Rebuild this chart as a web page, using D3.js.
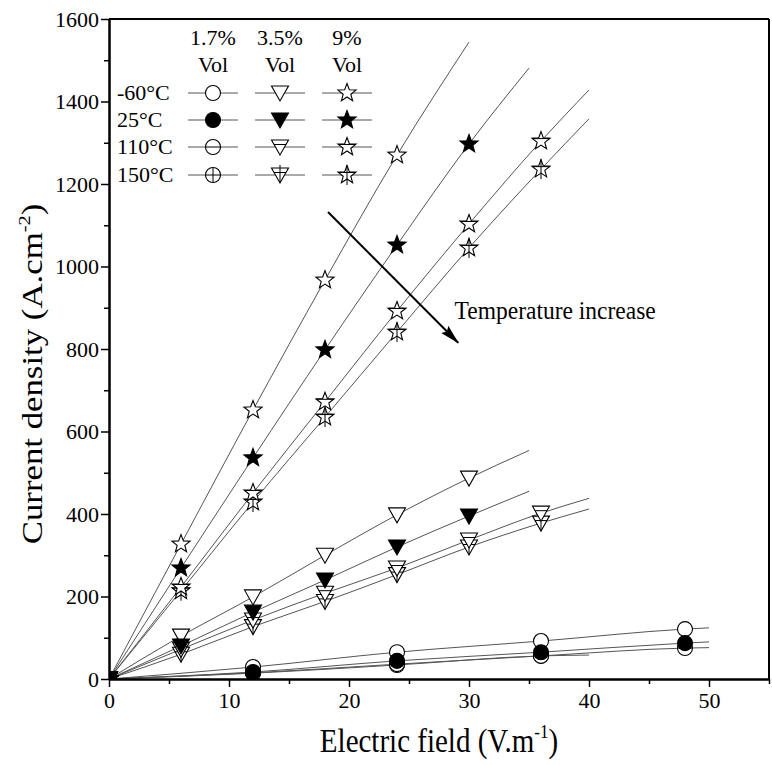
<!DOCTYPE html>
<html>
<head>
<meta charset="utf-8">
<script src="https://cdn.jsdelivr.net/npm/d3@7"></script>
<style>
  html, body { margin: 0; padding: 0; background: #fff; }
  svg { display: block; }
  text { font-family: "Liberation Serif", "Times New Roman", serif; fill: #000; }
</style>
</head>
<body>
<svg id="chart" width="772" height="765"></svg>
<script>
// ---------------- data ----------------
const temperatures = ["-60°C", "25°C", "110°C", "150°C"];
const concentrations = ["1.7%", "3.5%", "9%"];

// 1.7 % Vol (circles)
const fieldCircle = [0, 12, 24, 36, 48];
const circleM60 = [0, 29, 65, 92, 121];
const circle25  = [0, 17, 44, 65, 87];
const circle110 = [0, 15, 36, 56, 75];
const circle150 = [0, 14, 34, 56];
const circleFitEnd = [[50, 124], [50, 90], [50, 76], [40, 58]];

// 3.5 % Vol (down triangles)
const fieldTriangle = [0, 6, 12, 18, 24, 30, 36];
const triM60 = [0, 104, 199, 300, 398, 487];
const tri25  = [0, 80, 162, 240, 320, 395];
const tri110 = [0, 72, 143, 208, 269, 337, 402];
const tri150 = [0, 60, 127, 188, 253, 320, 378];
const triFitEnd = [[35, 554], [35, 455], [40, 438], [40, 412]];

// 9 % Vol (stars)
const fieldStar = [0, 6, 12, 18, 24, 30, 36];
const starM60 = [0, 327, 652, 967, 1270];
const star25  = [0, 269, 536, 798, 1052, 1297];
const star110 = [0, 223, 451, 672, 892, 1103, 1304];
const star150 = [0, 214, 429, 635, 841, 1045, 1236];
const starFitEnd = [[30, 1544], [35, 1481], [40, 1428], [40, 1358]];

const xTicks = [0, 10, 20, 30, 40, 50];
const xMinorTicks = [5, 15, 25, 35, 45, 55];
const yTicks = [0, 200, 400, 600, 800, 1000, 1200, 1400, 1600];
const yMinorTicks = [100, 300, 500, 700, 900, 1100, 1300, 1500];

const arrowStart = [18.25, 1132];
const arrowEnd = [29.1, 815];
const arrowLabel = "Temperature increase";
const arrowLabelPos = [28.8, 872];

// ---------------- layout ----------------
const W = 772, H = 765;
const margin = {left: 109, right: 3, top: 19, bottom: 86};
const svg = d3.select("#chart");

const x = d3.scaleLinear().domain([0, 55]).range([margin.left, W - margin.right]);
const y = d3.scaleLinear().domain([0, 1600]).range([H - margin.bottom, margin.top]);

const groups = [
  {shape: "circle",   field: fieldCircle,   series: [circleM60, circle25, circle110, circle150], ends: circleFitEnd},
  {shape: "triangle", field: fieldTriangle, series: [triM60, tri25, tri110, tri150],             ends: triFitEnd},
  {shape: "star",     field: fieldStar,     series: [starM60, star25, star110, star150],         ends: starFitEnd}
];

svg.append("defs").append("clipPath").attr("id", "plotClip")
  .append("rect").attr("x", x(0)).attr("y", y(1600))
  .attr("width", x(55) - x(0)).attr("height", y(0) - y(1600));

// ---------- marker paths ----------
function starPath(R, r) {
  const pts = [];
  for (let i = 0; i < 10; i++) {
    const a = -Math.PI / 2 + i * Math.PI / 5;
    const rad = i % 2 === 0 ? R : r;
    pts.push([rad * Math.cos(a), rad * Math.sin(a)]);
  }
  return "M" + pts.map(p => p[0].toFixed(2) + "," + p[1].toFixed(2)).join("L") + "Z";
}
const shapePath = {
  circle: d3.symbol(d3.symbolCircle, Math.PI * 7.5 * 7.5)(),
  triangle: "M-8.5,-7L8.5,-7L0,8Z",
  star: starPath(9.5, 4)
};
const innerLines = {
  circle:   {h: [[-7.5, 0], [7.5, 0]],  v: [[0, -7.5], [0, 7.5]]},
  triangle: {h: [[-6, -2.5], [6, -2.5]], v: [[0, -10], [0, 8]]},
  star:     {h: [[-9, -2.5], [9, -2.5]],  v: [[0, -10], [0, 10]]}
};

function drawMarker(g, shape, tIndex) {
  const filled = tIndex === 1;
  g.append("path").attr("d", shapePath[shape])
    .attr("fill", filled ? "#000" : "#fff")
    .attr("stroke", "#000").attr("stroke-width", 1.1);
  const il = innerLines[shape];
  if (tIndex === 2 || tIndex === 3) {
    g.append("line").attr("x1", il.h[0][0]).attr("y1", il.h[0][1])
      .attr("x2", il.h[1][0]).attr("y2", il.h[1][1])
      .attr("stroke", "#000").attr("stroke-width", 1);
  }
  if (tIndex === 3) {
    g.append("line").attr("x1", il.v[0][0]).attr("y1", il.v[0][1])
      .attr("x2", il.v[1][0]).attr("y2", il.v[1][1])
      .attr("stroke", "#000").attr("stroke-width", 1);
  }
}

// ---------------- fit lines ----------------
const lineGen = d3.line().x(d => x(d[0])).y(d => y(d[1])).curve(d3.curveMonotoneX);
const linesG = svg.append("g").attr("clip-path", "url(#plotClip)");
groups.forEach(gr => {
  gr.series.forEach((vals, ti) => {
    const pts = vals.map((v, i) => [gr.field[i], v]);
    pts.push(gr.ends[ti]);
    linesG.append("path").attr("d", lineGen(pts))
      .attr("fill", "none").attr("stroke", "#555").attr("stroke-width", 1);
  });
});

// ---------------- markers ----------------
const drawOrder = [3, 2, 0, 1];
const markG = svg.append("g").attr("clip-path", "url(#plotClip)");
groups.forEach(gr => {
  drawOrder.forEach(ti => {
    const vals = gr.series[ti];
    vals.forEach((v, i) => {
      const g = markG.append("g").attr("transform", `translate(${x(gr.field[i])},${y(v)})`);
      drawMarker(g, gr.shape, ti);
    });
  });
});

// ---------------- axes ----------------
const axisG = svg.append("g");
axisG.append("g").attr("transform", `translate(0,${y(0)})`)
  .call(d3.axisBottom(x).tickValues(xTicks).tickSize(8).tickSizeOuter(0).tickPadding(5).tickFormat(d3.format("d")));
axisG.append("g").attr("transform", `translate(0,${y(0)})`)
  .call(d3.axisBottom(x).tickValues(xMinorTicks).tickSize(5).tickSizeOuter(0).tickFormat(""));
axisG.append("g").attr("transform", `translate(${x(0)},0)`)
  .call(d3.axisLeft(y).tickValues(yTicks).tickSize(8).tickSizeOuter(0).tickPadding(2).tickFormat(d3.format("d")));
axisG.append("g").attr("transform", `translate(${x(0)},0)`)
  .call(d3.axisLeft(y).tickValues(yMinorTicks).tickSize(5).tickSizeOuter(0).tickFormat(""));

axisG.selectAll(".domain").attr("stroke", "#000").attr("stroke-width", 2);
axisG.selectAll(".tick line").attr("stroke", "#000").attr("stroke-width", 1.5);
axisG.selectAll(".tick text").attr("font-family", '"Liberation Serif", "Times New Roman", serif')
  .attr("font-size", 22).attr("fill", "#000");

svg.append("line").attr("x1", x(0)).attr("x2", x(55)).attr("y1", y(1600)).attr("y2", y(1600))
  .attr("stroke", "#000").attr("stroke-width", 2);
svg.append("line").attr("x1", x(55)).attr("x2", x(55)).attr("y1", y(1600)).attr("y2", y(0))
  .attr("stroke", "#000").attr("stroke-width", 2);

// axis titles (slightly tall glyphs, as in the reference)
const xt = svg.append("text")
  .attr("transform", `translate(${(x(0) + x(55)) / 2},752) scale(1,1.15)`)
  .attr("text-anchor", "middle").attr("font-size", 29);
xt.append("tspan").text("Electric field (V.m");
xt.append("tspan").attr("font-size", 17).attr("dy", -12).text("-1");
xt.append("tspan").attr("dy", 12).text(")");

const yt = svg.append("text")
  .attr("transform", `translate(42,374) rotate(-90) scale(1.2,1)`)
  .attr("text-anchor", "middle").attr("font-size", 29);
yt.append("tspan").text("Current density (A.cm");
yt.append("tspan").attr("font-size", 17).attr("dy", -12).text("-2");
yt.append("tspan").attr("dy", 12).text(")");

// ---------------- arrow annotation ----------------
svg.select("defs").append("marker").attr("id", "ah")
  .attr("viewBox", "0 0 20 10").attr("refX", 19).attr("refY", 5)
  .attr("markerWidth", 20).attr("markerHeight", 11).attr("markerUnits", "userSpaceOnUse")
  .attr("orient", "auto")
  .append("path").attr("d", "M0,0L20,5L0,10L3,5Z").attr("fill", "#000");
svg.append("line")
  .attr("x1", x(arrowStart[0])).attr("y1", y(arrowStart[1]))
  .attr("x2", x(arrowEnd[0])).attr("y2", y(arrowEnd[1]))
  .attr("stroke", "#000").attr("stroke-width", 2).attr("marker-end", "url(#ah)");
svg.append("text")
  .attr("transform", `translate(${x(arrowLabelPos[0])},${y(arrowLabelPos[1])}) scale(1,1.1)`)
  .attr("font-size", 23.5).text(arrowLabel);

// ---------------- legend ----------------
const legG = svg.append("g");
const colCenters = [213, 280, 347];
const rowYs = [93, 120, 147, 175];
concentrations.forEach((c, ci) => {
  legG.append("text").attr("x", colCenters[ci]).attr("y", 45).attr("text-anchor", "middle")
    .attr("font-size", 22).text(c);
  legG.append("text").attr("x", colCenters[ci]).attr("y", 72).attr("text-anchor", "middle")
    .attr("font-size", 22).text("Vol");
});
temperatures.forEach((t, ti) => {
  legG.append("text").attr("x", 117).attr("y", rowYs[ti] + 7).attr("font-size", 22).text(t);
  groups.forEach((gr, ci) => {
    legG.append("line").attr("x1", colCenters[ci] - 25).attr("x2", colCenters[ci] + 25)
      .attr("y1", rowYs[ti]).attr("y2", rowYs[ti]).attr("stroke", "#555").attr("stroke-width", 1);
    const g = legG.append("g").attr("transform", `translate(${colCenters[ci]},${rowYs[ti]})`);
    drawMarker(g, gr.shape, ti);
  });
});
</script>
</body>
</html>
